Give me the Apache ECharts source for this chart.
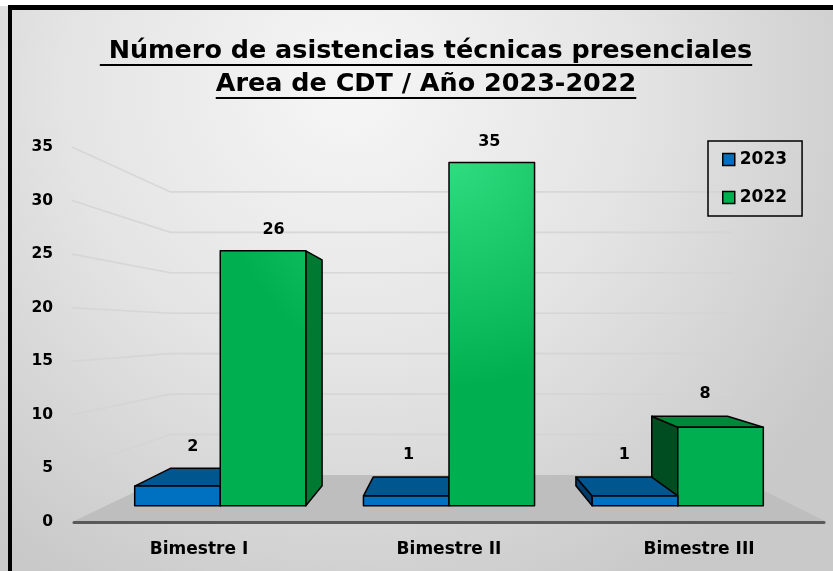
<!DOCTYPE html>
<html><head><meta charset="utf-8">
<script src="https://cdn.jsdelivr.net/npm/echarts/dist/echarts.min.js"></script>
<style>html,body{margin:0;padding:0;background:#fff}#c{width:833px;height:571px}</style>
</head><body><div id="c"></div>
<script>
// ---- data ----
const titleLines = [' Número de asistencias técnicas presenciales', 'Area de CDT / Año 2023-2022'];
const categories = ['Bimestre I', 'Bimestre II', 'Bimestre III'];
const seriesNames = ['2023', '2022'];
const values2023 = [2, 1, 1];
const values2022 = [26, 35, 8];
const yTicks = [0, 5, 10, 15, 20, 25, 30, 35];

// ---- perspective / style parameters ----
const FONT = '"DejaVu Sans", sans-serif';
const VP_VALUE = 17.9;    // eye level, in axis units
const S_FRONT = 0.915;    // bar front plane scale
const S_BACK = 0.811;     // bar back plane scale
const S_WALL = 0.755;     // back wall scale
const BAR_FRAC = 0.374;   // bar width as fraction of category width

const chart = echarts.init(document.getElementById('c'), null, {renderer: 'canvas'});
const W = 833, H = 571;

function measure(text, size) {
  const ctx = document.createElement('canvas').getContext('2d');
  ctx.font = 'bold ' + size + 'px "DejaVu Sans"';
  return ctx.measureText(text).width;
}
const TITLE_CX = 426;
const t1Size = 24 * 652 / measure(titleLines[0], 24);
const t2Size = 24 * 421 / measure(titleLines[1], 24);
const tSize = (t1Size + t2Size) / 2;
const w1 = measure(titleLines[0], tSize), w2 = measure(titleLines[1], tSize);

function persp(vp, x, y, s) { return [vp[0] + s * (x - vp[0]), vp[1] + s * (y - vp[1])]; }

const palettes = [
  {front: '#0070c0', top: '#00568f', sideR: '#004f88', sideL: '#003c6c'},
  {front: null, top: '#00883a', sideR: '#007a33', sideL: '#004d22'}
];

function makeBar(si) {
  return function (params, api) {
    const ci = api.value(0), v = api.value(1);
    const base = api.coord([ci, 0]);
    const top = api.coord([ci, v]);
    const cw = api.size([1, 0])[0];
    const bw = cw * BAR_FRAC;
    const x0 = si === 0 ? base[0] - bw : base[0];
    const x1 = x0 + bw;
    const vp = api.coord([1, VP_VALUE]);
    const P = (x, y, s) => persp(vp, x, y, s);
    const FLb = P(x0, base[1], S_FRONT), FRb = P(x1, base[1], S_FRONT);
    const FLt = P(x0, top[1], S_FRONT), FRt = P(x1, top[1], S_FRONT);
    const BLb = P(x0, base[1], S_BACK), BRb = P(x1, base[1], S_BACK);
    const BLt = P(x0, top[1], S_BACK), BRt = P(x1, top[1], S_BACK);
    const pal = palettes[si];
    const z2 = 1000 - Math.abs((x0 + x1) / 2 - vp[0]);
    const stroke = {stroke: '#000', lineWidth: 1.5, lineJoin: 'round'};
    const children = [];
    if (x1 < vp[0] - 1) {
      children.push({type: 'polygon', shape: {points: [FRb, FRt, BRt, BRb]}, style: Object.assign({fill: pal.sideR}, stroke), z2: z2});
    }
    if (x0 > vp[0] + 1) {
      children.push({type: 'polygon', shape: {points: [FLb, FLt, BLt, BLb]}, style: Object.assign({fill: pal.sideL}, stroke), z2: z2});
    }
    let labelY = FLt[1] - 21;
    if (top[1] > vp[1]) {
      children.push({type: 'polygon', shape: {points: [FLt, FRt, BRt, BLt]}, style: Object.assign({fill: pal.top}, stroke), z2: z2});
      labelY = BLt[1] - 22;
    }
    let frontFill = pal.front;
    if (!frontFill) {
      const c = api.coord([1.2, 34]);
      frontFill = new echarts.graphic.RadialGradient(c[0], c[1], 230,
        [{offset: 0, color: '#30dd80'}, {offset: 1, color: '#00b050'}], true);
    }
    children.push({type: 'polygon', shape: {points: [FLb, FRb, FRt, FLt]}, style: Object.assign({fill: frontFill}, stroke), z2: z2 + 0.5});
    const mid = P((x0 + x1) / 2, top[1], (S_FRONT + S_BACK) / 2);
    children.push({type: 'text', z2: z2 + 1, style: {text: String(v), x: mid[0], y: labelY,
      fill: '#000', font: 'bold 16px ' + FONT, align: 'center', verticalAlign: 'middle'}});
    return {type: 'group', children: children};
  };
}

function renderWalls(params, api) {
  const v = api.value(1);
  const p = api.coord([1, v]);
  const cw = api.size([1, 0])[0];
  const left = api.coord([0, 0])[0] - cw / 2;
  const right = api.coord([categories.length - 1, 0])[0] + cw / 2;
  const vp = api.coord([1, VP_VALUE]);
  const P = (x, y, s) => persp(vp, x, y, s);
  if (v === 0) {
    return {type: 'polygon', shape: {points: [[left - 2, p[1]], [right + 3, p[1]], P(right, p[1], S_WALL), P(left + 6, p[1], S_WALL)]},
      style: {fill: '#bebebe'}};
  }
  return {type: 'polyline', shape: {points: [[left - 2, p[1]], P(left + 6, p[1], S_WALL), P(right, p[1], S_WALL)]},
    style: {stroke: 'rgba(212,212,212,0.85)', lineWidth: 1.6, fill: null}};
}

const titleTop1 = 39, titleTop2 = 72;
const option = {
  animation: false,
  title: [
    {text: titleLines[0], left: TITLE_CX - w1 / 2, top: titleTop1, padding: 0,
      textStyle: {fontFamily: FONT, fontWeight: 'bold', fontSize: tSize, color: '#000'}},
    {text: titleLines[1], left: TITLE_CX - w2 / 2, top: titleTop2, padding: 0,
      textStyle: {fontFamily: FONT, fontWeight: 'bold', fontSize: tSize, color: '#000'}}
  ],
  legend: {
    data: seriesNames, orient: 'vertical', left: 708, top: 141,
    padding: [10, 15, 10, 14], itemGap: 21, itemWidth: 12, itemHeight: 12, icon: 'rect',
    borderColor: '#000', borderWidth: 1.5, backgroundColor: 'transparent',
    itemStyle: {borderColor: '#000', borderWidth: 1.5},
    textStyle: {fontFamily: FONT, fontWeight: 'bold', fontSize: 17, color: '#000'}
  },
  grid: {left: 74, right: 9, top: 147, bottom: 49, outerBoundsMode: 'none'},
  xAxis: {
    type: 'category', data: categories, boundaryGap: true,
    axisLine: {show: true, lineStyle: {color: '#595959', width: 3}},
    axisTick: {show: false},
    axisLabel: {margin: 19, fontFamily: FONT, fontWeight: 'bold', fontSize: 17, color: '#000'},
    splitLine: {show: false}
  },
  yAxis: {
    type: 'value', min: 0, max: 35, interval: 5,
    axisLine: {show: false}, axisTick: {show: false}, splitLine: {show: false},
    axisLabel: {margin: 21, fontFamily: FONT, fontWeight: 'bold', fontSize: 15.5, color: '#000'}
  },
  graphic: [
    {type: 'rect', z: -100, silent: true, shape: {x: 0, y: 0, width: W, height: H},
      style: {fill: new echarts.graphic.RadialGradient(0.42, 0.15, 1,
        [{offset: 0, color: '#f6f6f6'}, {offset: 0.5, color: '#e4e4e4'}, {offset: 1, color: '#c9c9c9'}])}},
    {type: 'rect', z: -99, silent: true, shape: {x: 0, y: 0, width: W, height: 6}, style: {fill: '#fff'}},
    {type: 'rect', z: 50, silent: true, shape: {x: 8, y: 5, width: W - 8, height: 5}, style: {fill: '#000'}},
    {type: 'rect', z: 50, silent: true, shape: {x: 8, y: 5, width: 4, height: H - 5}, style: {fill: '#000'}},
    {type: 'line', z: 50, silent: true, shape: {x1: TITLE_CX - w1 / 2, y1: 65, x2: TITLE_CX + w1 / 2, y2: 65}, style: {stroke: '#000', lineWidth: 2}},
    {type: 'line', z: 50, silent: true, shape: {x1: TITLE_CX - w2 / 2, y1: 98, x2: TITLE_CX + w2 / 2, y2: 98}, style: {stroke: '#000', lineWidth: 2}}
  ],
  series: [
    {type: 'custom', name: 'walls', z: -1, clip: false, silent: true, encode: {x: 0, y: 1},
      data: yTicks.map(v => [1, v]), renderItem: renderWalls},
    {type: 'custom', name: seriesNames[0], z: 3, clip: false, encode: {x: 0, y: 1},
      itemStyle: {color: '#0070c0'},
      data: values2023.map((v, i) => [i, v]), renderItem: makeBar(0)},
    {type: 'custom', name: seriesNames[1], z: 3, clip: false, encode: {x: 0, y: 1},
      itemStyle: {color: '#00b050'},
      data: values2022.map((v, i) => [i, v]), renderItem: makeBar(1)}
  ]
};
chart.setOption(option);
</script></body></html>
